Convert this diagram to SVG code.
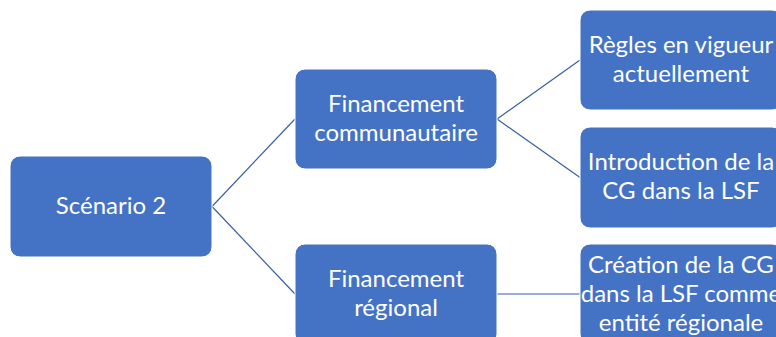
<svg xmlns="http://www.w3.org/2000/svg" width="776" height="337" viewBox="0 0 776 337">
<style>
.box{fill:#4472C4;stroke:#ffffff;stroke-width:1}
.t{font-family:Lato,"Liberation Sans",sans-serif;font-size:24px;fill:#ffffff;text-anchor:middle}
.c{stroke:#3A5FA0;stroke-width:1.2;fill:none}
</style>
<rect width="776" height="337" fill="#ffffff"/>
<g id="connectors">
<line class="c" x1="212" y1="206.5" x2="295" y2="119"/>
<line class="c" x1="212" y1="206.5" x2="295" y2="294"/>
<line class="c" x1="497" y1="119" x2="580" y2="60"/>
<line class="c" x1="497" y1="119" x2="580" y2="177.5"/>
<line class="c" x1="497" y1="294" x2="580" y2="294"/>
</g>
<g id="n-scenario">
<rect class="box" x="10" y="156" width="202" height="101" rx="10"/>
<text class="t" x="111" y="214">Scénario 2</text>
</g>
<g id="n-communautaire">
<rect class="box" x="295" y="69" width="202" height="100" rx="10"/>
<text class="t" x="396" y="111.7">Financement</text>
<text class="t" x="396" y="141">communautaire</text>
</g>
<g id="n-regional">
<rect class="box" x="295" y="244" width="202" height="100" rx="10"/>
<text class="t" x="396" y="286.7">Financement</text>
<text class="t" x="396" y="316">régional</text>
</g>
<g id="n-regles">
<rect class="box" x="580" y="10" width="202" height="100" rx="10"/>
<text class="t" x="681" y="52.7">Règles en vigueur</text>
<text class="t" x="681" y="82">actuellement</text>
</g>
<g id="n-introduction">
<rect class="box" x="580" y="127" width="202" height="101" rx="10"/>
<text class="t" x="681" y="170">Introduction de la</text>
<text class="t" x="681" y="199.3">CG dans la LSF</text>
</g>
<g id="n-creation">
<rect class="box" x="580" y="244" width="202" height="100" rx="10"/>
<text class="t" x="681" y="273">Création de la CG</text>
<text class="t" x="681" y="302">dans la LSF comme</text>
<text class="t" x="681" y="331">entité régionale</text>
</g>
</svg>
